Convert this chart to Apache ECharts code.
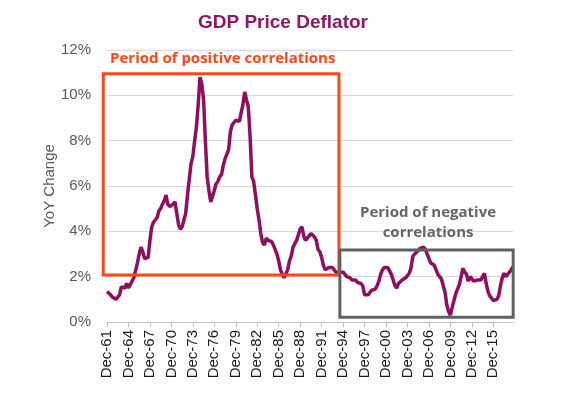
<!DOCTYPE html>
<html>
<head>
<meta charset="utf-8">
<script src="https://cdn.jsdelivr.net/npm/echarts@6/dist/echarts.min.js"></script>
<style>
  html, body { margin: 0; padding: 0; background: #fff; }
  #main { width: 578px; height: 397px; }
</style>
</head>
<body>
<div id="main"></div>
<script>
var myChart = echarts.init(document.getElementById('main'));

// quarterly YoY change (%), Dec-61 .. Sep-18
let vals60s = [1.35, 1.3, 1.2, 1.1, 1.1, 1.0, 0.97, 1.2, 1.55, 1.5, 1.5, 1.7,
               1.5, 1.65, 1.7, 1.95, 2.0, 2.6, 3.0, 3.3, 3.1, 2.8, 2.8, 2.85,
               3.6, 4.2, 4.4, 4.5, 4.6, 4.9, 5.0, 5.2, 5.35, 5.6, 5.2, 5.1];
let vals70s = [5.15, 5.2, 5.3, 4.8, 4.3, 4.1, 4.2, 4.15, 4.8, 5.6, 6.3, 7.0,
               7.3, 8.0, 8.6, 9.6, 10.8, 10.5, 9.8, 8.0, 6.4, 5.8, 5.3, 5.3,
               5.8, 6.1, 6.2, 6.4, 6.5, 6.9, 7.2, 7.4, 7.6, 8.4, 8.7, 8.8];
let vals80s = [8.9, 8.9, 8.85, 8.9, 9.6, 10.15, 9.8, 9.5, 8.2, 6.4, 6.2, 5.6,
               5.0, 4.5, 3.9, 3.5, 3.4, 3.7, 3.6, 3.6, 3.55, 3.4, 3.2, 3.0,
               2.7, 2.3, 2.1, 1.95, 1.95, 2.3, 2.7, 2.9, 3.3, 3.35, 3.6, 3.85];
let vals90s = [4.1, 4.2, 3.8, 3.6, 3.65, 3.8, 3.9, 3.85, 3.75, 3.6, 3.2, 3.1,
               2.85, 2.5, 2.3, 2.3, 2.4, 2.45, 2.4, 2.45, 2.2, 2.15, 2.2, 2.2,
               2.2, 2.1, 2.0, 2.0, 1.95, 1.85, 1.8, 1.85, 1.75, 1.8, 1.7, 1.6];
let vals00s = [1.2, 1.2, 1.2, 1.3, 1.4, 1.45, 1.45, 1.6, 1.8, 2.1, 2.3, 2.4,
               2.44, 2.4, 2.35, 2.1, 1.85, 1.6, 1.5, 1.7, 1.78, 1.85, 1.9, 1.95,
               2.0, 2.15, 2.4, 2.9, 3.0, 3.05, 3.15, 3.25, 3.3, 3.3, 3.2, 3.0];
let vals10s = [2.8, 2.6, 2.6, 2.5, 2.3, 2.1, 2.0, 1.9, 1.6, 1.3, 0.75, 0.45,
               0.3, 0.65, 0.95, 1.25, 1.45, 1.65, 2.0, 2.37, 2.2, 2.1, 1.8, 2.0,
               2.0, 1.8, 1.85, 1.85, 1.9, 1.85, 2.0, 2.15, 1.7, 1.35, 1.15, 1.05,
               0.95, 0.9, 1.0, 1.15, 1.6, 1.95, 2.15, 2.0, 2.05, 2.2, 2.3, 2.45];
let yData = [].concat(vals60s, vals70s, vals80s, vals90s, vals00s, vals10s);

let months = ['Dec', 'Mar', 'Jun', 'Sep'];
let xData = [];
for (let i = 0; i < yData.length; i++) {
  let yr = 61 + Math.floor((i + 3) / 4);
  xData.push(months[i % 4] + '-' + String(yr % 100).padStart(2, '0'));
}

let yTicks = [0, 2, 4, 6, 8, 10, 12];

var option = {
  animation: false,
  title: {
    text: 'GDP Price Deflator',
    left: 193, top: 8,
    textStyle: { color: '#8C1763', fontSize: 19, fontWeight: 'bold', fontFamily: 'Liberation Sans' }
  },
  grid: { left: 107, right: 65, top: 50, bottom: 75 },
  xAxis: {
    type: 'category',
    data: xData,
    boundaryGap: false,
    axisLine: { lineStyle: { color: '#bfbfbf', width: 1 } },
    axisTick: { interval: 11, length: 5, lineStyle: { color: '#bfbfbf' } },
    axisLabel: {
      interval: 11, rotate: 90, margin: 8,
      color: '#1a1a1a', fontSize: 15, fontFamily: 'Liberation Sans'
    }
  },
  yAxis: {
    type: 'value',
    min: yTicks[0], max: yTicks[yTicks.length - 1], interval: 2,
    name: 'YoY Change', nameLocation: 'middle', nameGap: 50,
    nameMoveOverlap: false,
    nameTextStyle: { color: '#595959', fontSize: 15, fontFamily: 'Liberation Sans' },
    axisLine: { show: false },
    axisTick: { show: false },
    axisLabel: { formatter: '{value}%', color: '#595959', fontSize: 15, margin: 16, fontFamily: 'Liberation Sans' },
    splitLine: { lineStyle: { color: '#d9d9d9', width: 1 } }
  },
  series: [{
    type: 'line',
    data: yData,
    symbol: 'none',
    lineStyle: { color: '#8E0F5E', width: 3.5 },
    z: 3
  }]
};
myChart.setOption(option);

// annotation boxes, placed in data space (category index, value %)
function px(idx, val) {
  let p0 = myChart.convertToPixel({ gridIndex: 0 }, [0, val]);
  let p1 = myChart.convertToPixel({ gridIndex: 0 }, [yData.length - 1, val]);
  return [p0[0] + (p1[0] - p0[0]) * idx / (yData.length - 1), p0[1]];
}
function box(i0, i1, v0, v1, color) {
  let a = px(i0, v1), b = px(i1, v0);
  return {
    type: 'rect', z: 10,
    shape: { x: a[0], y: a[1], width: b[0] - a[0], height: b[1] - a[1] },
    style: { fill: 'none', stroke: color, lineWidth: 3 }
  };
}
let posTop = px(1.7, 11.6), negTop = px(179.5, 4.37);
myChart.setOption({
  graphic: [
    box(-2.1, 129.7, 2.07, 10.95, '#FF4614'),
    box(130.2, 227.1, 0.21, 3.18, '#5E6166'),
    {
      type: 'text', z: 11, x: posTop[0], y: posTop[1],
      style: { text: 'Period of positive correlations', fill: '#FF4614', font: 'bold 15px "Open Sans"', textVerticalAlign: 'middle' }
    },
    {
      type: 'text', z: 11, x: negTop[0], y: negTop[1],
      style: { text: 'Period of negative\ncorrelations', fill: '#666666', font: 'bold 15px "Open Sans"', textAlign: 'center', textVerticalAlign: 'middle', lineHeight: 20 }
    }
  ]
});
</script>
</body>
</html>
